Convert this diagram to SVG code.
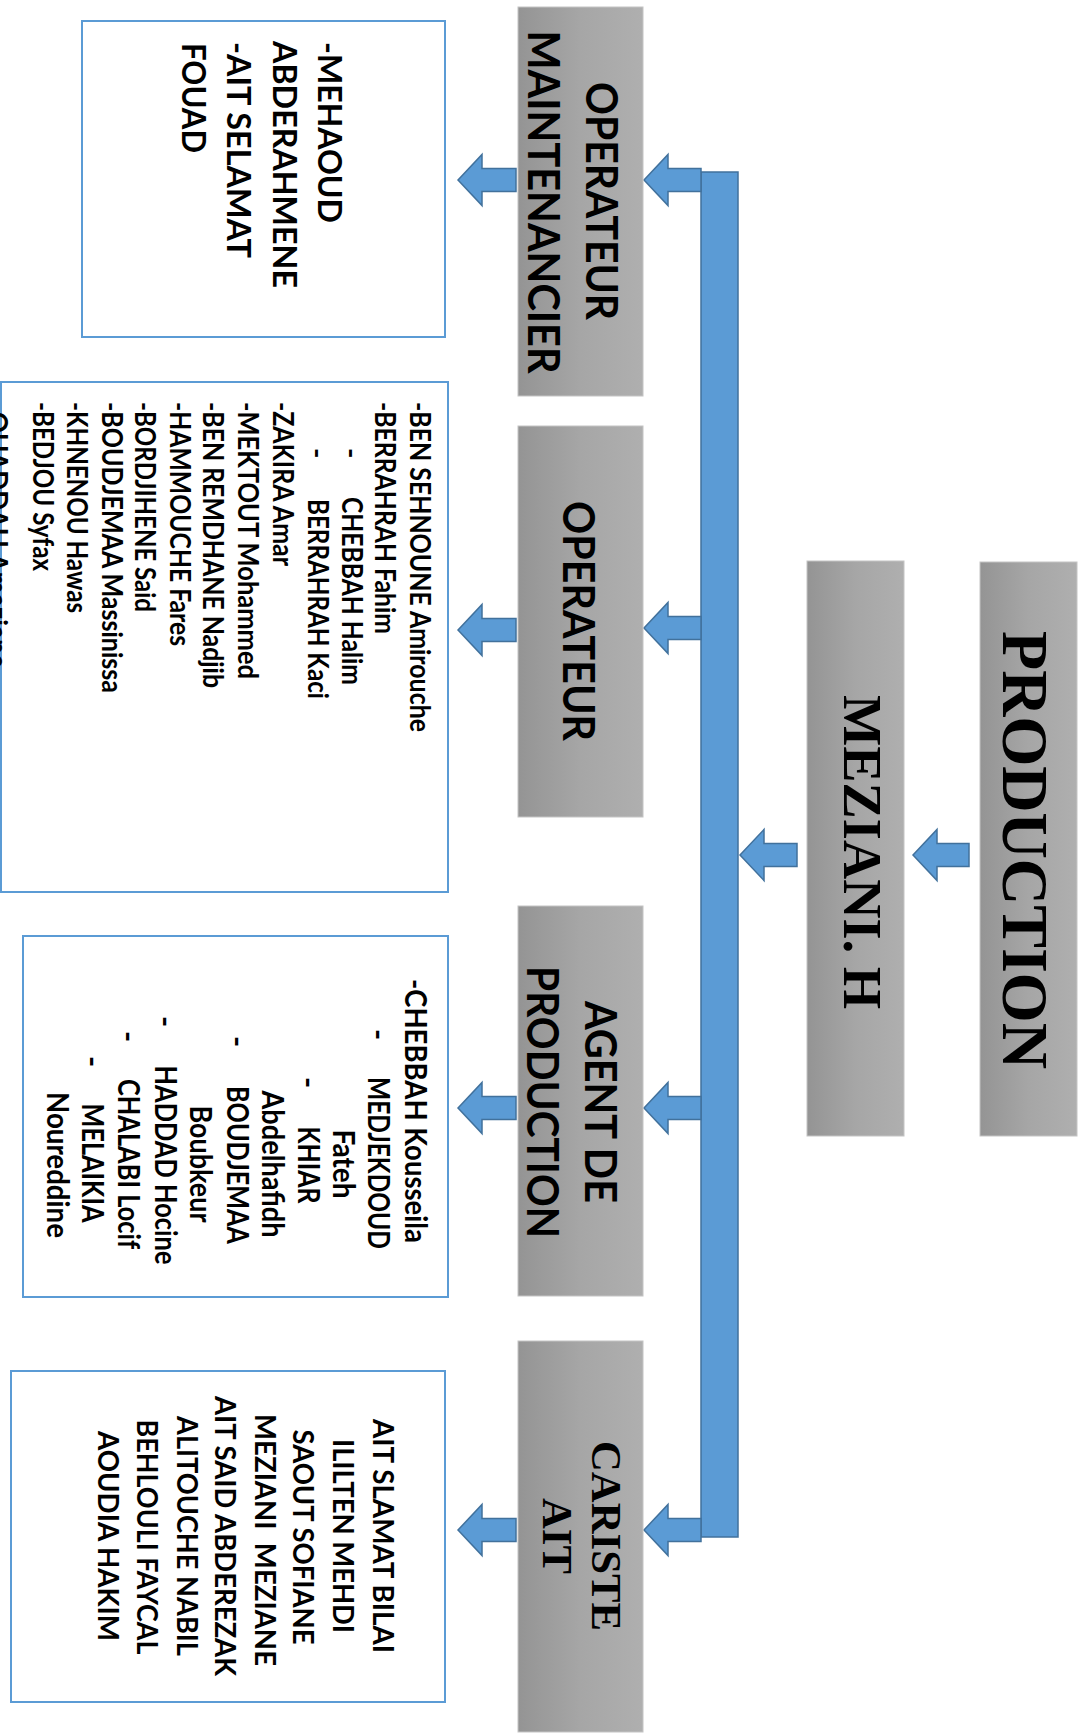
<svg xmlns="http://www.w3.org/2000/svg" width="1082" height="1736" viewBox="0 0 1082 1736">
<defs>
<linearGradient id="g" x1="0" y1="0" x2="1" y2="0">
<stop offset="0" stop-color="#949494"/>
<stop offset="0.5" stop-color="#a6a6a6"/>
<stop offset="1" stop-color="#afafaf"/>
</linearGradient>
<style>
.gbox{fill:url(#g);stroke:#c4c4c4;stroke-width:1}
.lbox{fill:#fff;stroke:#5B9BD5;stroke-width:2}
.arrow{fill:#5B9BD5;stroke:#41719C;stroke-width:1.5}
.cal{font-family:Lato,'Liberation Sans',sans-serif;font-weight:bold;fill:#000}
.tnr{font-family:'Liberation Serif','Times New Roman',serif;font-weight:bold;fill:#000}
</style>
</defs>
<rect width="1082" height="1736" fill="#fff"/>

<g id="connectors">
<rect class="arrow" x="701" y="172" width="37" height="1365"/>
<polygon class="arrow" points="913,855 937,829.5 937,843.5 969,843.5 969,866.5 937,866.5 937,880.5"/>
<polygon class="arrow" points="740,855 764,829.5 764,843.5 797,843.5 797,866.5 764,866.5 764,880.5"/>
<polygon class="arrow" points="644,180 668,154.5 668,168.5 701,168.5 701,191.5 668,191.5 668,205.5"/>
<polygon class="arrow" points="644,628 668,602.5 668,616.5 701,616.5 701,639.5 668,639.5 668,653.5"/>
<polygon class="arrow" points="644,1108 668,1082.5 668,1096.5 701,1096.5 701,1119.5 668,1119.5 668,1133.5"/>
<polygon class="arrow" points="644,1530 668,1504.5 668,1518.5 701,1518.5 701,1541.5 668,1541.5 668,1555.5"/>
<polygon class="arrow" points="458,180 482,154.5 482,168.5 516,168.5 516,191.5 482,191.5 482,205.5"/>
<polygon class="arrow" points="458,630 482,604.5 482,618.5 516,618.5 516,641.5 482,641.5 482,655.5"/>
<polygon class="arrow" points="458,1108 482,1082.5 482,1096.5 516,1096.5 516,1119.5 482,1119.5 482,1133.5"/>
<polygon class="arrow" points="458,1530 482,1504.5 482,1518.5 516,1518.5 516,1541.5 482,1541.5 482,1555.5"/>
</g>

<g id="n-production">
<rect class="gbox" x="980" y="562" width="97" height="574"/>
<text class="tnr" font-size="66" transform="translate(1003,850) rotate(90)" text-anchor="middle" textLength="438" lengthAdjust="spacingAndGlyphs">PRODUCTION</text>
</g>

<g id="n-meziani">
<rect class="gbox" x="807" y="561" width="97" height="575"/>
<text class="tnr" font-size="55" transform="translate(844,852) rotate(90)" text-anchor="middle" textLength="314" lengthAdjust="spacingAndGlyphs">MEZIANI. H</text>
</g>

<g id="n-op-maint">
<rect class="gbox" x="518" y="7" width="125" height="389"/>
<text class="cal" font-size="44" transform="translate(586,201) rotate(90)" text-anchor="middle" textLength="238" lengthAdjust="spacingAndGlyphs">OPERATEUR</text>
<text class="cal" font-size="44" transform="translate(528,202) rotate(90)" text-anchor="middle" textLength="343" lengthAdjust="spacingAndGlyphs">MAINTENANCIER</text>
</g>

<g id="n-operateur">
<rect class="gbox" x="518" y="426" width="125" height="391"/>
<text class="cal" font-size="44" transform="translate(563,621) rotate(90)" text-anchor="middle" textLength="240" lengthAdjust="spacingAndGlyphs">OPERATEUR</text>
</g>

<g id="n-agent">
<rect class="gbox" x="518" y="906" width="125" height="390"/>
<text class="cal" font-size="44" transform="translate(585,1102) rotate(90)" text-anchor="middle" textLength="202" lengthAdjust="spacingAndGlyphs">AGENT DE</text>
<text class="cal" font-size="44" transform="translate(527,1102) rotate(90)" text-anchor="middle" textLength="272" lengthAdjust="spacingAndGlyphs">PRODUCTION</text>
</g>

<g id="n-cariste">
<rect class="gbox" x="518" y="1341" width="125" height="391"/>
<text class="tnr" font-size="43" transform="translate(592,1536) rotate(90)" text-anchor="middle" textLength="190" lengthAdjust="spacingAndGlyphs">CARISTE</text>
<text class="tnr" font-size="43" transform="translate(543,1536) rotate(90)" text-anchor="middle" textLength="76" lengthAdjust="spacingAndGlyphs">AIT</text>
</g>

<g id="n-list-op-maint">
<rect class="lbox" x="82" y="21" width="363" height="316"/>
<text class="cal" font-size="33" transform="translate(318,42) rotate(90)" textLength="181" lengthAdjust="spacingAndGlyphs">-MEHAOUD</text>
<text class="cal" font-size="33" transform="translate(273,41) rotate(90)" textLength="247" lengthAdjust="spacingAndGlyphs">ABDERAHMENE</text>
<text class="cal" font-size="33" transform="translate(227,42) rotate(90)" textLength="216" lengthAdjust="spacingAndGlyphs">-AIT SELAMAT</text>
<text class="cal" font-size="33" transform="translate(182,43) rotate(90)" textLength="110" lengthAdjust="spacingAndGlyphs">FOUAD</text>
</g>

<g id="n-list-operateur">
<rect class="lbox" x="1" y="382" width="447" height="510"/>
<text class="cal" font-size="28" transform="translate(410,402) rotate(90)" textLength="330" lengthAdjust="spacingAndGlyphs">-BEN SEHNOUNE Amirouche</text>
<text class="cal" font-size="28" transform="translate(375,402) rotate(90)" textLength="232" lengthAdjust="spacingAndGlyphs">-BERRAHRAH Fahim</text>
<text class="cal" font-size="28" transform="translate(342,448) rotate(90)">-</text>
<text class="cal" font-size="28" transform="translate(342,497) rotate(90)" textLength="188" lengthAdjust="spacingAndGlyphs">CHEBBAH Halim</text>
<text class="cal" font-size="28" transform="translate(308,448) rotate(90)">-</text>
<text class="cal" font-size="28" transform="translate(308,499) rotate(90)" textLength="200" lengthAdjust="spacingAndGlyphs">BERRAHRAH Kaci</text>
<text class="cal" font-size="28" transform="translate(273,402) rotate(90)" textLength="164" lengthAdjust="spacingAndGlyphs">-ZAKIRA Amar</text>
<text class="cal" font-size="28" transform="translate(238,402) rotate(90)" textLength="277" lengthAdjust="spacingAndGlyphs">-MEKTOUT Mohammed</text>
<text class="cal" font-size="28" transform="translate(203,402) rotate(90)" textLength="286" lengthAdjust="spacingAndGlyphs">-BEN REMDHANE Nadjib</text>
<text class="cal" font-size="28" transform="translate(170,402) rotate(90)" textLength="244" lengthAdjust="spacingAndGlyphs">-HAMMOUCHE Fares</text>
<text class="cal" font-size="28" transform="translate(135,402) rotate(90)" textLength="210" lengthAdjust="spacingAndGlyphs">-BORDJIHENE Said</text>
<text class="cal" font-size="28" transform="translate(102,402) rotate(90)" textLength="291" lengthAdjust="spacingAndGlyphs">-BOUDJEMAA Massinissa</text>
<text class="cal" font-size="28" transform="translate(67,402) rotate(90)" textLength="211" lengthAdjust="spacingAndGlyphs">-KHNENOU Hawas</text>
<text class="cal" font-size="28" transform="translate(33,402) rotate(90)" textLength="169" lengthAdjust="spacingAndGlyphs">-BEDJOU Syfax</text>
<text class="cal" font-size="28" transform="translate(-13,402) rotate(90)" textLength="266" lengthAdjust="spacingAndGlyphs">-OUADDAH Amaziane</text>
</g>

<g id="n-list-agent">
<rect class="lbox" x="23" y="936" width="425" height="361"/>
<text class="cal" font-size="30" transform="translate(405,979) rotate(90)" textLength="264" lengthAdjust="spacingAndGlyphs">-CHEBBAH Kousseila</text>
<text class="cal" font-size="30" transform="translate(368,1029) rotate(90)">-</text>
<text class="cal" font-size="30" transform="translate(368,1163) rotate(90)" text-anchor="middle" textLength="172" lengthAdjust="spacingAndGlyphs">MEDJEKDOUD</text>
<text class="cal" font-size="30" transform="translate(333,1164) rotate(90)" text-anchor="middle" textLength="69" lengthAdjust="spacingAndGlyphs">Fateh</text>
<text class="cal" font-size="30" transform="translate(298,1077) rotate(90)">-</text>
<text class="cal" font-size="30" transform="translate(298,1165) rotate(90)" text-anchor="middle" textLength="77" lengthAdjust="spacingAndGlyphs">KHIAR</text>
<text class="cal" font-size="30" transform="translate(262,1164) rotate(90)" text-anchor="middle" textLength="147" lengthAdjust="spacingAndGlyphs">Abdelhafidh</text>
<text class="cal" font-size="30" transform="translate(227,1036) rotate(90)">-</text>
<text class="cal" font-size="30" transform="translate(227,1165) rotate(90)" text-anchor="middle" textLength="158" lengthAdjust="spacingAndGlyphs">BOUDJEMAA</text>
<text class="cal" font-size="30" transform="translate(190,1164) rotate(90)" text-anchor="middle" textLength="117" lengthAdjust="spacingAndGlyphs">Boubkeur</text>
<text class="cal" font-size="30" transform="translate(155,1016) rotate(90)">-</text>
<text class="cal" font-size="30" transform="translate(155,1165) rotate(90)" text-anchor="middle" textLength="199" lengthAdjust="spacingAndGlyphs">HADDAD Hocine</text>
<text class="cal" font-size="30" transform="translate(118,1031) rotate(90)">-</text>
<text class="cal" font-size="30" transform="translate(118,1164) rotate(90)" text-anchor="middle" textLength="170" lengthAdjust="spacingAndGlyphs">CHALABI Locif</text>
<text class="cal" font-size="30" transform="translate(82,1056) rotate(90)">-</text>
<text class="cal" font-size="30" transform="translate(82,1163) rotate(90)" text-anchor="middle" textLength="119" lengthAdjust="spacingAndGlyphs">MELAIKIA</text>
<text class="cal" font-size="30" transform="translate(47,1165) rotate(90)" text-anchor="middle" textLength="146" lengthAdjust="spacingAndGlyphs">Noureddine</text>
</g>

<g id="n-list-cariste">
<rect class="lbox" x="11" y="1371" width="434" height="331"/>
<text class="cal" font-size="28" transform="translate(373,1536) rotate(90)" text-anchor="middle" textLength="234" lengthAdjust="spacingAndGlyphs">AIT SLAMAT BILAI</text>
<text class="cal" font-size="28" transform="translate(333,1536) rotate(90)" text-anchor="middle" textLength="194" lengthAdjust="spacingAndGlyphs">ILILTEN MEHDI</text>
<text class="cal" font-size="28" transform="translate(293,1537) rotate(90)" text-anchor="middle" textLength="215" lengthAdjust="spacingAndGlyphs">SAOUT SOFIANE</text>
<text class="cal" font-size="28" xml:space="preserve" transform="translate(255,1540) rotate(90)" text-anchor="middle" textLength="252" lengthAdjust="spacingAndGlyphs">MEZIANI  MEZIANE</text>
<text class="cal" font-size="28" transform="translate(215,1536) rotate(90)" text-anchor="middle" textLength="280" lengthAdjust="spacingAndGlyphs">AIT SAID ABDEREZAK</text>
<text class="cal" font-size="28" transform="translate(177,1536) rotate(90)" text-anchor="middle" textLength="240" lengthAdjust="spacingAndGlyphs">ALITOUCHE NABIL</text>
<text class="cal" font-size="28" transform="translate(137,1537) rotate(90)" text-anchor="middle" textLength="235" lengthAdjust="spacingAndGlyphs">BEHLOULI FAYCAL</text>
<text class="cal" font-size="28" transform="translate(98,1536) rotate(90)" text-anchor="middle" textLength="210" lengthAdjust="spacingAndGlyphs">AOUDIA HAKIM</text>
</g>
</svg>
